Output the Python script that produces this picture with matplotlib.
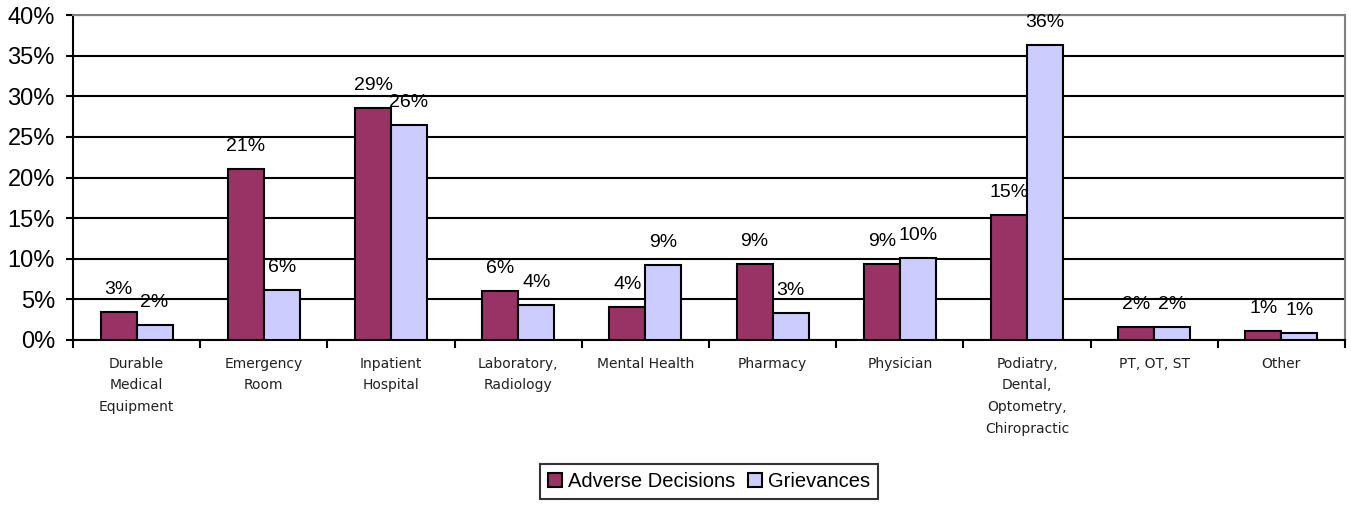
import numpy as np
import matplotlib
matplotlib.use("Agg")
import matplotlib.pyplot as plt

categories = ["Durable\nMedical\nEquipment", "Emergency\nRoom", "Inpatient\nHospital",
              "Laboratory,\nRadiology", "Mental Health", "Pharmacy", "Physician",
              "Podiatry,\nDental,\nOptometry,\nChiropractic", "PT, OT, ST", "Other"]
adverse = [3.4, 21.0, 28.6, 6.0, 4.1, 9.4, 9.4, 15.4, 1.6, 1.1]
grievances = [1.9, 6.2, 26.5, 4.3, 9.2, 3.3, 10.1, 36.3, 1.6, 0.9]
adverse_lbl = ["3%", "21%", "29%", "6%", "4%", "9%", "9%", "15%", "2%", "1%"]
grievances_lbl = ["2%", "6%", "26%", "4%", "9%", "3%", "10%", "36%", "2%", "1%"]

plt.rcParams['font.family'] = ['Liberation Sans', 'DejaVu Sans']

fig = plt.figure(figsize=(13.51, 5.08), dpi=100)
ax = fig.add_axes([73/1351, 1-340/508, (1345-73)/1351, (340-15)/508])

x = np.arange(len(categories))
w = 0.283
b1 = ax.bar(x - w/2, adverse, w, color="#993366", edgecolor="black", linewidth=1.5,
            label="Adverse Decisions", zorder=3)
b2 = ax.bar(x + w/2, grievances, w, color="#CCCCFF", edgecolor="black", linewidth=1.5,
            label="Grievances", zorder=3)

for bars, lbls in ((b1, adverse_lbl), (b2, grievances_lbl)):
    for r, t in zip(bars, lbls):
        ax.annotate(t, (r.get_x() + r.get_width()/2, r.get_height()),
                    xytext=(0, 10), textcoords="offset points",
                    ha="center", va="bottom", fontsize=14, zorder=4)

ax.set_ylim(0, 40)
ax.set_xlim(-0.5, len(categories) - 0.5)
ax.set_yticks(np.arange(0, 41, 5))
ax.set_yticklabels([f"{v}%" for v in range(0, 41, 5)], fontsize=17)
ax.yaxis.grid(True, color="black", linewidth=1.5, zorder=0)
ax.set_axisbelow(True)

ax.set_xticks(x)
ax.set_xticklabels(categories, fontsize=10, family="DejaVu Sans", linespacing=1.7,
                   color="#222222")
ax.tick_params(axis="x", length=0, pad=12)
ax.set_xticks(np.arange(-0.5, len(categories)), minor=True)
ax.tick_params(axis="x", which="minor", length=6, width=1.5, direction="out")
ax.tick_params(axis="y", length=5, width=1.5, direction="out", pad=8)

for s in ("top", "right"):
    ax.spines[s].set_color("#808080")
    ax.spines[s].set_linewidth(1.5)
for s in ("left", "bottom"):
    ax.spines[s].set_color("black")
    ax.spines[s].set_linewidth(1.5)

leg = ax.legend(loc="lower center", bbox_to_anchor=(0.5, -0.52), ncol=2,
                fontsize=14.5, frameon=True, fancybox=False, edgecolor="black",
                handlelength=0.7, handleheight=0.7, handletextpad=0.3,
                columnspacing=0.6, borderpad=0.4)
leg.get_frame().set_linewidth(1.5)

fig.savefig("out.png", dpi=100)
